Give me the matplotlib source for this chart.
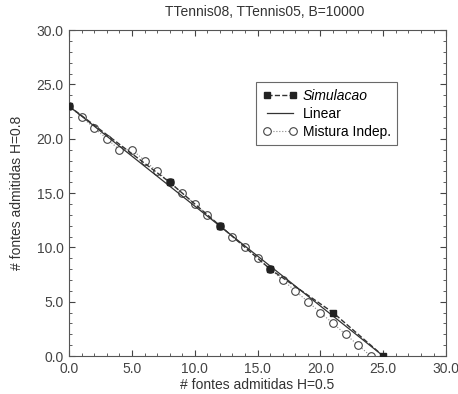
import matplotlib
matplotlib.use("Agg")
import matplotlib.pyplot as plt
from matplotlib.ticker import MultipleLocator, FormatStrFormatter

plt.rcParams['font.family'] = ['Liberation Sans', 'DejaVu Sans']

sim_x = [0, 8, 12, 16, 21, 25]
sim_y = [23, 16, 12, 8, 4, 0]

lin_x = [0, 25]
lin_y = [23, 0]

mix_x = [0, 1, 2, 3, 4, 5, 6, 7, 8, 9, 10, 11, 12, 13, 14, 15, 16, 17, 18, 19, 20, 21, 22, 23, 24]
mix_y = [23, 22, 21, 20, 19, 19, 18, 17, 16, 15, 14, 13, 12, 11, 10, 9, 8, 7, 6, 5, 4, 3, 2, 1, 0]

fig = plt.figure(figsize=(4.58, 3.94), dpi=100)
ax = fig.add_axes([0.151, 0.0964, 0.823, 0.827])

ax.plot(mix_x, mix_y, linestyle=':', color='#888888', lw=0.8, marker='o', ms=5.5,
        mfc='white', mec='#444444', mew=0.8, label='Mistura Indep.', zorder=2)
ax.plot(lin_x, lin_y, linestyle='-', color='#333333', lw=0.9, label='Linear', zorder=3)
ax.plot(sim_x, sim_y, linestyle='--', color='#333333', lw=1.0, marker='s', ms=4.5,
        mfc='#222222', mec='#222222', label='Simulacao', zorder=4)

ax.set_xlim(0, 30)
ax.set_ylim(0, 30)
ax.xaxis.set_major_locator(MultipleLocator(5))
ax.yaxis.set_major_locator(MultipleLocator(5))
ax.xaxis.set_minor_locator(MultipleLocator(1))
ax.yaxis.set_minor_locator(MultipleLocator(1))
ax.xaxis.set_major_formatter(FormatStrFormatter('%.1f'))
ax.yaxis.set_major_formatter(FormatStrFormatter('%.1f'))
ax.tick_params(which='both', direction='in', top=True, right=True, labelsize=10, colors='#444444')
ax.tick_params(which='major', length=4, pad=4)
ax.tick_params(which='minor', length=2)
for s in ax.spines.values():
    s.set_color('#555555')
    s.set_linewidth(0.8)

ax.set_xlabel('# fontes admitidas H=0.5', fontsize=10, color='#333333', labelpad=2)
ax.set_ylabel('# fontes admitidas H=0.8', fontsize=10, color='#333333', labelpad=9)
ax.set_title('TTennis08, TTennis05, B=10000', fontsize=10, color='#333333', pad=10, x=0.52)

handles, labels = ax.get_legend_handles_labels()
order = [2, 1, 0]
leg = ax.legend([handles[i] for i in order], [labels[i] for i in order],
                loc='upper left', bbox_to_anchor=(0.496, 0.84), fontsize=10,
                frameon=True, fancybox=False, edgecolor='#444444', handlelength=2.5,
                numpoints=2, borderpad=0.45, labelspacing=0.3, handletextpad=0.4,
                borderaxespad=0)
leg.get_frame().set_linewidth(0.8)
leg.get_texts()[0].set_style('italic')

fig.savefig('out.png', dpi=100)
